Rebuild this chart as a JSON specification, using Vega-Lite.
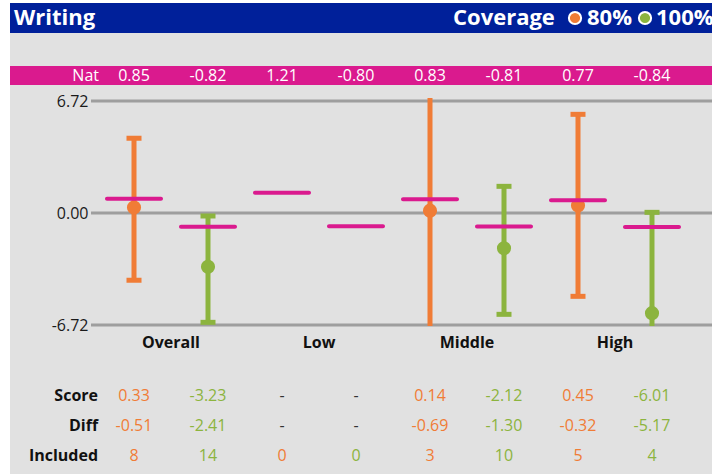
{
  "$schema": "https://vega.github.io/schema/vega-lite/v6.json",
  "background": "#E1E1E1",
  "padding": 0,
  "spacing": 0,
  "bounds": "flush",
  "config": {
    "font": "Open Sans",
    "view": {"stroke": null},
    "locale": {"number": {"decimal": ".", "thousands": ",", "grouping": [3], "currency": ["$", ""], "minus": "-"}}
  },
  "datasets": {
    "cols": [
      {"col": 0, "group": "Overall", "cov": "80%", "nat": 0.85, "pt": 0.33, "lo": -4.04, "hi": 4.48, "Score": "0.33", "Diff": "-0.51", "Included": "8"},
      {"col": 1, "group": "Overall", "cov": "100%", "nat": -0.82, "pt": -3.23, "lo": -6.56, "hi": -0.18, "Score": "-3.23", "Diff": "-2.41", "Included": "14"},
      {"col": 2, "group": "Low", "cov": "80%", "nat": 1.21, "pt": null, "lo": null, "hi": null, "Score": "-", "Diff": "-", "Included": "0"},
      {"col": 3, "group": "Low", "cov": "100%", "nat": -0.80, "pt": null, "lo": null, "hi": null, "Score": "-", "Diff": "-", "Included": "0"},
      {"col": 4, "group": "Middle", "cov": "80%", "nat": 0.83, "pt": 0.14, "lo": -7.5, "hi": 7.4, "Score": "0.14", "Diff": "-0.69", "Included": "3"},
      {"col": 5, "group": "Middle", "cov": "100%", "nat": -0.81, "pt": -2.12, "lo": -6.08, "hi": 1.6, "Score": "-2.12", "Diff": "-1.30", "Included": "10"},
      {"col": 6, "group": "High", "cov": "80%", "nat": 0.77, "pt": 0.45, "lo": -5.0, "hi": 5.92, "Score": "0.45", "Diff": "-0.32", "Included": "5"},
      {"col": 7, "group": "High", "cov": "100%", "nat": -0.84, "pt": -6.01, "lo": -7.3, "hi": 0.04, "Score": "-6.01", "Diff": "-5.17", "Included": "4"}
    ],
    "grid": [{"v": 6.72}, {"v": 0}, {"v": -6.72}],
    "rows": [{"key": "Score"}, {"key": "Diff"}, {"key": "Included"}],
    "one": [{}],
    "none": []
  },
  "hconcat": [
    {
      "width": 10, "height": 474,
      "view": {"fill": "white", "stroke": null},
      "data": {"name": "none"},
      "mark": {"type": "text"},
      "encoding": {"text": {"value": ""}}
    },
    {
      "spacing": 0,
      "bounds": "flush",
      "vconcat": [
        {
          "width": 702, "height": 3,
          "view": {"fill": "white", "stroke": null},
          "data": {"name": "none"},
          "mark": {"type": "text"},
          "encoding": {"text": {"value": ""}}
        },
        {
          "width": 702, "height": 30,
          "view": {"fill": "#00209A", "stroke": null},
          "data": {"name": "one"},
          "layer": [
            {"mark": {"type": "text", "align": "left", "baseline": "middle", "fontSize": 22, "fontWeight": "bold", "color": "white"},
             "encoding": {"x": {"datum": -1.6216, "type": "quantitative", "scale": {"domain": [-1.6757, 7.8108], "nice": false, "zero": false}, "axis": null}, "text": {"value": "Writing"}}},
            {"mark": {"type": "text", "align": "left", "baseline": "middle", "fontSize": 22, "fontWeight": "bold", "color": "white"},
             "encoding": {"x": {"datum": 4.3108, "type": "quantitative"}, "text": {"value": "Coverage"}}},
            {"mark": {"type": "circle", "size": 150, "opacity": 1, "color": "#F07C36", "stroke": "white", "strokeWidth": 2},
             "encoding": {"x": {"datum": 5.9595, "type": "quantitative"}}},
            {"mark": {"type": "text", "align": "left", "baseline": "middle", "fontSize": 22, "fontWeight": "bold", "color": "white"},
             "encoding": {"x": {"datum": 6.1216, "type": "quantitative"}, "text": {"value": "80%"}}},
            {"mark": {"type": "circle", "size": 150, "opacity": 1, "color": "#8CB43E", "stroke": "white", "strokeWidth": 2},
             "encoding": {"x": {"datum": 6.9054, "type": "quantitative"}}},
            {"mark": {"type": "text", "align": "left", "baseline": "middle", "fontSize": 22, "fontWeight": "bold", "color": "white"},
             "encoding": {"x": {"datum": 7.0541, "type": "quantitative"}, "text": {"value": "100%"}}}
          ]
        },
        {
          "width": 702, "height": 33,
          "data": {"name": "none"},
          "mark": {"type": "text"},
          "encoding": {"text": {"value": ""}}
        },
        {
          "width": 702, "height": 19,
          "view": {"fill": "#DA1A8E", "stroke": null},
          "layer": [
            {"data": {"name": "cols"},
             "mark": {"type": "text", "baseline": "middle", "fontSize": 16, "color": "white"},
             "encoding": {
               "x": {"field": "col", "type": "quantitative", "scale": {"domain": [-1.6757, 7.8108], "nice": false, "zero": false}, "axis": null},
               "text": {"field": "nat", "type": "quantitative", "format": ".2f"}}},
            {"data": {"name": "one"},
             "mark": {"type": "text", "align": "right", "baseline": "middle", "fontSize": 16, "color": "white"},
             "encoding": {"x": {"datum": -0.473, "type": "quantitative"}, "text": {"value": "Nat"}}}
          ]
        },
        {
          "width": 702, "height": 13,
          "data": {"name": "none"},
          "mark": {"type": "text"},
          "encoding": {"text": {"value": ""}}
        },
        {
          "width": 702, "height": 228,
          "layer": [
            {"data": {"name": "grid"},
             "mark": {"type": "rule", "color": "#9E9E9E", "strokeWidth": 3},
             "encoding": {
               "x": {"datum": -0.581, "type": "quantitative", "scale": {"domain": [-1.6757, 7.8108], "nice": false, "zero": false}, "axis": null},
               "x2": {"datum": 7.8108},
               "y": {"field": "v", "type": "quantitative", "scale": {"domain": [-6.78, 6.9], "nice": false, "zero": false},
                     "axis": {"values": [-6.72, 0, 6.72], "format": ".2f", "offset": -81, "domain": false, "ticks": false, "grid": false, "labelFontSize": 16, "labelColor": "#1a1a1a", "labelPadding": 3, "labelFont": "Open Sans", "labelOverlap": false, "labelBound": false, "title": null}}}},
            {"data": {"name": "cols"},
             "transform": [{"filter": "isValid(datum.pt)"}],
             "layer": [
               {"mark": {"type": "rule", "strokeWidth": 5, "clip": true},
                "encoding": {
                  "x": {"field": "col", "type": "quantitative"},
                  "y": {"field": "lo", "type": "quantitative"},
                  "y2": {"field": "hi"},
                  "color": {"field": "cov", "type": "nominal", "scale": {"domain": ["80%", "100%"], "range": ["#F07C36", "#8CB43E"]}, "legend": null}}},
               {"mark": {"type": "tick", "orient": "horizontal", "size": 15, "thickness": 5, "opacity": 1, "clip": true},
                "encoding": {
                  "x": {"field": "col", "type": "quantitative"},
                  "y": {"field": "lo", "type": "quantitative"},
                  "color": {"field": "cov", "type": "nominal", "legend": null}}},
               {"mark": {"type": "tick", "orient": "horizontal", "size": 15, "thickness": 5, "opacity": 1, "clip": true},
                "encoding": {
                  "x": {"field": "col", "type": "quantitative"},
                  "y": {"field": "hi", "type": "quantitative"},
                  "color": {"field": "cov", "type": "nominal", "legend": null}}},
               {"mark": {"type": "circle", "size": 200, "opacity": 1},
                "encoding": {
                  "x": {"field": "col", "type": "quantitative"},
                  "y": {"field": "pt", "type": "quantitative"},
                  "color": {"field": "cov", "type": "nominal", "legend": null}}}
             ]},
            {"data": {"name": "cols"},
             "mark": {"type": "tick", "orient": "horizontal", "size": 58, "thickness": 4, "opacity": 1, "color": "#DA1A8E", "cornerRadius": 2},
             "encoding": {
               "x": {"field": "col", "type": "quantitative"},
               "y": {"field": "nat", "type": "quantitative"}}}
          ]
        },
        {
          "width": 702, "height": 34,
          "data": {"name": "cols"},
          "mark": {"type": "text", "baseline": "middle", "fontSize": 16, "fontWeight": "bold", "color": "#111111"},
          "encoding": {
            "x": {"aggregate": "mean", "field": "col", "type": "quantitative", "scale": {"domain": [-1.6757, 7.8108], "nice": false, "zero": false}, "axis": null},
            "text": {"field": "group", "type": "nominal"}}
        },
        {
          "width": 702, "height": 114,
          "layer": [
            {"data": {"name": "cols"},
             "transform": [{"fold": ["Score", "Diff", "Included"], "as": ["key", "val"]}],
             "mark": {"type": "text", "baseline": "middle", "fontSize": 16},
             "encoding": {
               "x": {"field": "col", "type": "quantitative", "scale": {"domain": [-1.6757, 7.8108], "nice": false, "zero": false}, "axis": null},
               "y": {"field": "key", "type": "nominal", "scale": {"domain": ["Score", "Diff", "Included"], "range": [36, 96], "padding": 0}, "axis": null},
               "text": {"field": "val", "type": "nominal"},
               "color": {"condition": {"test": "datum.val === '-'", "value": "#333333"}, "field": "cov", "type": "nominal", "scale": {"domain": ["80%", "100%"], "range": ["#F07C36", "#8CB43E"]}, "legend": null}}},
            {"data": {"name": "rows"},
             "mark": {"type": "text", "align": "right", "baseline": "middle", "fontSize": 16, "fontWeight": "bold", "color": "#111111"},
             "encoding": {
               "x": {"datum": -0.486, "type": "quantitative"},
               "y": {"field": "key", "type": "nominal"},
               "text": {"field": "key", "type": "nominal"}}}
          ]
        }
      ]
    }
  ]
}
